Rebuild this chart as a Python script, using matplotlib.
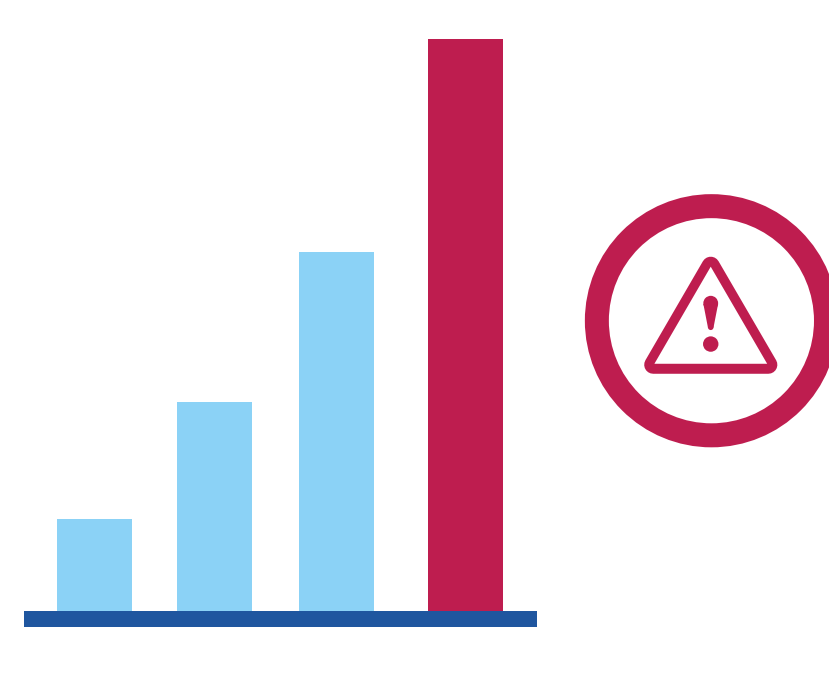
import matplotlib
matplotlib.use("Agg")
import matplotlib.pyplot as plt
from matplotlib.patches import Circle, Polygon, Rectangle

# bar heights
values = [92, 209, 359, 572]
colors = ['#8bd2f6', '#8bd2f6', '#8bd2f6', '#be1d4f']

# layout, in pixels of the 829x676 image
centers = [94.5, 214.5, 336.5, 465.5]
bar_width = 75
base_y = 611

RED = '#be1d4f'
BLUE = '#1f569f'

fig = plt.figure(figsize=(8.295, 6.765), dpi=100)

# bars: y axis has its zero on the baseline
ax = fig.add_axes([0, 0, 1, 1])
ax.set_xlim(0, 829)
ax.set_ylim(base_y - 676, base_y)
ax.axis('off')
ax.bar(centers, values, width=bar_width, color=colors, linewidth=0)
ax.add_patch(Rectangle((24, -16.5), 513, 16.5, color=BLUE, linewidth=0, zorder=3))

# warning icon, y axis runs downward like image pixels
icon = fig.add_axes([0, 0, 1, 1])
icon.set_xlim(0, 829)
icon.set_ylim(676, 0)
icon.axis('off')
icon.patch.set_alpha(0)

icon.add_patch(Circle((711, 321), 114.5, fill=False, edgecolor=RED, linewidth=24 * 0.72))

# triangle: rounded outer shape with a white hole
icon.add_patch(Polygon([(710.3, 266), (767.9, 365), (652.8, 365)], closed=True,
                       facecolor=RED, edgecolor=RED, linewidth=18 * 0.72, joinstyle='round'))
icon.add_patch(Polygon([(710.3, 267), (766.7, 364), (654, 364)], closed=True,
                       facecolor='white', edgecolor='none', zorder=3))

# exclamation mark
icon.add_patch(Circle((710.3, 303.5), 7.4, color=RED, linewidth=0, zorder=4))
icon.add_patch(Circle((710.3, 327.5), 2.8, color=RED, linewidth=0, zorder=4))
icon.add_patch(Polygon([(702.95, 304.3), (717.65, 304.3), (713.1, 327.7), (707.5, 327.7)],
                       closed=True, color=RED, linewidth=0, zorder=4))
icon.add_patch(Circle((710.3, 344.3), 7.7, color=RED, linewidth=0, zorder=4))

fig.savefig('out.png', dpi=100, facecolor='white')
